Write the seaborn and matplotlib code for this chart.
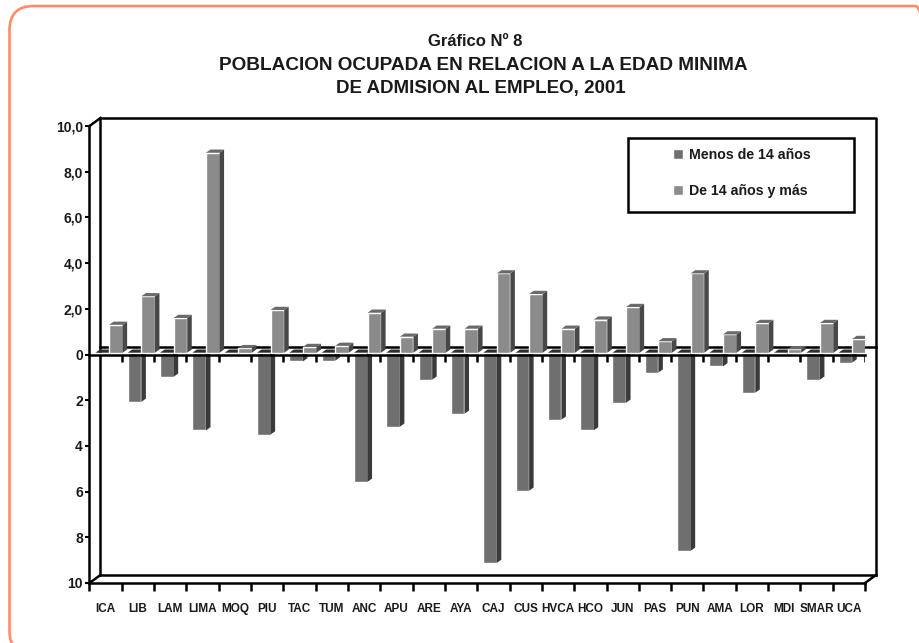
import numpy as np
import matplotlib
matplotlib.use("Agg")
import matplotlib.pyplot as plt
import pandas as ps
import seaborn as sns
from matplotlib.patches import FancyBboxPatch, Polygon, Rectangle
from matplotlib.transforms import Affine2D, IdentityTransform

categorias = ["ICA", "LIB", "LAM", "LIMA", "MOQ", "PIU", "TAC", "TUM", "ANC", "APU", "ARE", "AYA",
              "CAJ", "CUS", "HVCA", "HCO", "JUN", "PAS", "PUN", "AMA", "LOR", "MDI", "SMAR", "UCA"]
menos_14 = [0.05, 2.15, 1.05, 3.4, 0.05, 3.58, 0.38, 0.35, 5.65, 3.24, 1.18, 2.67,
            9.2, 6.04, 2.93, 3.4, 2.19, 0.87, 8.67, 0.6, 1.75, 0.05, 1.18, 0.43]
de_14 = [1.22, 2.47, 1.52, 8.75, 0.2, 1.87, 0.25, 0.3, 1.75, 0.7, 1.05, 1.05,
         3.47, 2.57, 1.05, 1.45, 2.0, 0.5, 3.47, 0.8, 1.3, 0.15, 1.3, 0.6]
series = ["Menos de 14 años", "De 14 años y más"]
ytick_vals = [-10, -8, -6, -4, -2, 0, 2, 4, 6, 8, 10]
ytick_labels = ["10", "8", "6", "4", "2", "0", "2,0", "4,0", "6,0", "8,0", "10,0"]
titulo1 = "Gráfico Nº 8"
titulo2 = "POBLACION OCUPADA EN RELACION A LA EDAD MINIMA"
titulo3 = "DE ADMISION AL EMPLEO, 2001"

W, H = 920, 643
# colors: front, side, top
COL_MENOS = ("#6f6f6f", "#3a3a3a", "#2e2e2e")
COL_DE = ("#8b8b8b", "#484848", "#6a6a6a")
TXT = "#1a1a1a"

sns.set_theme(style="white")
plt.rcParams["font.family"] = ["Liberation Sans", "DejaVu Sans"]
plt.rcParams["font.weight"] = "bold"

df = ps.DataFrame({
    "dep": categorias * 2,
    "grupo": [series[0]] * len(categorias) + [series[1]] * len(categorias),
    "valor": [-v for v in menos_14] + de_14,
})

fig = plt.figure(figsize=(W / 100, H / 100), dpi=100)
fig.patch.set_facecolor("white")

# orange rounded frame, runs off the right and bottom of the image
fig.add_artist(FancyBboxPatch((9.5, -12), 930, 649, boxstyle="round,pad=0,rounding_size=24",
                              transform=IdentityTransform(), fc="none", ec="#ff8c69", lw=1.9))

L, R, T, B = 89.5, 865, 126, 583
ax = fig.add_axes([L / W, (H - B) / H, (R - L) / W, (B - T) / H])
ax.patch.set_alpha(0)

sns.barplot(data=df, x="dep", y="valor", hue="grupo", order=categorias, hue_order=series,
            palette=[COL_MENOS[0], COL_DE[0]], width=0.84, saturation=1, ax=ax, zorder=3)
ax.set_xlim(-0.5, len(categorias) - 0.5)
ax.set_ylim(-10, 10)
ax.set_xlabel("")
ax.set_ylabel("")

px_x = (R - L) / len(categorias)
px_y = (B - T) / 20
# move the bars to the middle of the floor and give them depth
shift_x, shift_y = 3.4 / px_x, 1.8 / px_y
dx, dy = 4.5 / px_x, 3.2 / px_y

for cont, cols, z in zip(ax.containers, (COL_MENOS, COL_DE), (3, 4)):
    for bar in cont:
        bar.set_x(bar.get_x() + shift_x)
        bar.set_y(bar.get_y() + shift_y)
        bar.set_zorder(z)
        x0, x1 = bar.get_x(), bar.get_x() + bar.get_width()
        y0, y1 = sorted([bar.get_y(), bar.get_y() + bar.get_height()])
        ax.add_patch(Polygon([(x1, y0), (x1 + dx, y0 + dy), (x1 + dx, y1 + dy), (x1, y1)],
                             fc=cols[1], ec="none", zorder=z))
        ax.add_patch(Polygon([(x0, y1), (x1, y1), (x1 + dx, y1 + dy), (x0 + dx, y1 + dy)],
                             fc=cols[2], ec="none", zorder=z))

# 3d walls
wall = ax.transData + Affine2D().translate(11, 8)
kw = dict(color="black", lw=1.8, clip_on=False, solid_capstyle="projecting")
x_a, x_b = ax.get_xlim()
ax.plot([x_a, x_a, x_b, x_b], [-10, 10, 10, -10], transform=wall, zorder=1, **kw)
ax.plot([x_a, x_b], [-10, -10], transform=wall, zorder=1, **kw)
ax.plot([x_a, x_b], [0, 0], transform=wall, zorder=1, **kw)
for xx, yy in [(x_a, 10), (x_a, -10), (x_b, -10)]:
    p = ax.transData.transform((xx, yy))
    ax.plot([p[0], p[0] + 11], [p[1], p[1] + 8], transform=IdentityTransform(), zorder=1, **kw)
ax.plot([x_a, x_b], [0, 0], zorder=6, **kw)

# ticks along the zero line
bordes = np.arange(len(categorias) + 1) - 0.5
ax.vlines(bordes[1:], -0.35, 0, color="black", lw=1.8, zorder=6)

sns.despine(ax=ax, top=True, right=True)
for s in ("left", "bottom"):
    ax.spines[s].set_linewidth(1.8)
    ax.spines[s].set_color("black")
    ax.spines[s].set_zorder(6)

ax.set_xticks(bordes)
ax.set_xticklabels([])
ax.set_xticks(np.arange(len(categorias)), labels=categorias, minor=True)
ax.tick_params(axis="x", which="major", bottom=True, length=5.5, width=1.8, color="black")
ax.tick_params(axis="x", which="minor", bottom=False, length=0, pad=14.5, labelsize=8.5, labelcolor=TXT)
ax.set_yticks(ytick_vals, labels=ytick_labels)
ax.tick_params(axis="y", left=True, length=3.2, width=1.5, color="black", pad=1.5, labelsize=10, labelcolor=TXT)

# legend box
ax.add_patch(Rectangle((628, H - 212), 226, 74, transform=IdentityTransform(), fc="white",
                       ec="black", lw=1.8, zorder=7))
handles, labels = ax.get_legend_handles_labels()
leg = ax.legend(handles, labels, frameon=False, fontsize=10.2, handlelength=0.72, handleheight=0.72,
                handletextpad=0.4, labelspacing=1.5, loc="center",
                bbox_to_anchor=(742, H - 173), bbox_transform=IdentityTransform(), labelcolor=TXT)
leg.set_zorder(8)

fig.text(475 / W, 1 - 41 / H, titulo1, ha="center", va="center", fontsize=12, color=TXT)
fig.text(483.5 / W, 1 - 65 / H, titulo2, ha="center", va="center", fontsize=13.7, color=TXT)
fig.text(481 / W, 1 - 88 / H, titulo3, ha="center", va="center", fontsize=13.5, color=TXT)

fig.savefig("out.png", dpi=100)
